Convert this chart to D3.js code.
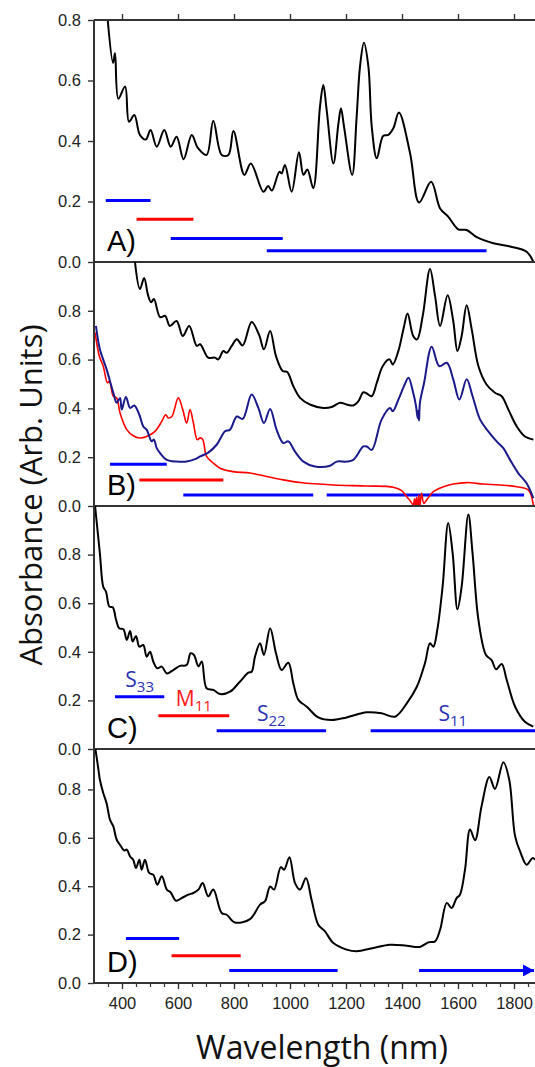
<!DOCTYPE html>
<html>
<head>
<meta charset="utf-8">
<script src="https://cdn.jsdelivr.net/npm/d3@7"></script>
<style>
body { margin: 0; background: #fff; }
svg text { font-family: "Liberation Sans", Arial, sans-serif; }
.title { font-family: "Open Sans", sans-serif; }
</style>
</head>
<body>
<svg id="chart" width="535" height="1067"></svg>
<script>
// ---- data (wavelength nm / absorbance) ----
const aWl  = [349,368,375,387,411,425,444,464,485,502,524,551,574,595,620,649,671,702,726,756,780,798,837,860,905,922,935,962,970,982,1006,1032,1048,1062,1083,1107,1119,1131,1155,1173,1182,1193,1222,1238,1250,1264,1280,1292,1310,1333,1351,1369,1389,1429,1461,1504,1536,1565,1601,1631,1667,1726,1786,1845,1869];
const aAbs = [0.80,0.658,0.69,0.54,0.58,0.464,0.486,0.42,0.405,0.436,0.381,0.436,0.381,0.414,0.34,0.42,0.377,0.354,0.467,0.354,0.354,0.433,0.288,0.326,0.232,0.251,0.236,0.298,0.293,0.321,0.232,0.363,0.288,0.306,0.244,0.513,0.585,0.502,0.326,0.458,0.508,0.447,0.288,0.48,0.646,0.725,0.646,0.447,0.343,0.417,0.42,0.442,0.494,0.359,0.197,0.265,0.177,0.15,0.108,0.106,0.082,0.062,0.051,0.034,0.001];

const bBlackWl  = [446,464,479,493,504,514,536,554,571,595,617,640,667,679,708,732,744,762,774,792,810,831,863,890,907,929,950,974,990,1012,1036,1071,1119,1149,1179,1202,1226,1244,1262,1274,1292,1310,1331,1355,1367,1387,1405,1420,1440,1454,1474,1500,1518,1536,1563,1583,1598,1613,1631,1649,1673,1702,1732,1756,1780,1810,1839,1869];
const bBlackAbs = [1.004,0.889,0.934,0.864,0.835,0.848,0.774,0.779,0.738,0.758,0.697,0.738,0.656,0.663,0.608,0.608,0.601,0.635,0.628,0.656,0.683,0.658,0.754,0.70,0.642,0.717,0.614,0.553,0.549,0.491,0.443,0.416,0.402,0.406,0.423,0.416,0.412,0.429,0.466,0.461,0.45,0.505,0.573,0.601,0.58,0.635,0.724,0.789,0.697,0.683,0.779,0.971,0.861,0.738,0.864,0.758,0.635,0.697,0.823,0.724,0.573,0.498,0.464,0.45,0.395,0.326,0.285,0.272];

const bNavyWl  = [307,321,345,369,381,393,399,414,429,444,462,476,488,506,514,524,536,560,595,631,661,679,708,738,768,786,810,831,863,887,907,929,952,976,994,1018,1048,1089,1143,1167,1202,1226,1262,1274,1292,1327,1357,1367,1387,1407,1423,1440,1450,1456,1458,1461,1464,1479,1506,1533,1560,1583,1605,1631,1652,1679,1708,1738,1762,1786,1815,1845,1869];
const bNavyAbs = [0.738,0.642,0.56,0.464,0.423,0.443,0.395,0.447,0.402,0.412,0.374,0.326,0.313,0.265,0.272,0.237,0.217,0.189,0.182,0.182,0.192,0.203,0.219,0.251,0.306,0.313,0.367,0.357,0.457,0.402,0.34,0.398,0.313,0.258,0.265,0.223,0.182,0.162,0.165,0.182,0.182,0.189,0.244,0.244,0.23,0.354,0.402,0.388,0.436,0.491,0.526,0.464,0.41,0.36,0.39,0.35,0.423,0.505,0.653,0.573,0.587,0.519,0.436,0.519,0.45,0.354,0.306,0.265,0.237,0.189,0.135,0.093,0.032];

const bRedWl  = [304,319,333,348,355,369,381,393,417,440,464,488,518,542,556,565,578,601,617,631,643,655,669,679,688,702,726,750,797,857,917,976,1036,1155,1274,1369,1399,1417,1430,1440,1445,1448,1452,1456,1460,1463,1467,1470,1478,1488,1512,1548,1583,1631,1690,1750,1810,1851,1869];
const bRedAbs = [0.711,0.614,0.573,0.505,0.512,0.45,0.443,0.381,0.313,0.288,0.279,0.285,0.306,0.347,0.374,0.361,0.367,0.443,0.395,0.34,0.395,0.34,0.272,0.279,0.274,0.203,0.176,0.155,0.141,0.135,0.121,0.107,0.096,0.086,0.082,0.077,0.063,0.038,0.02,0.004,0.03,-0.005,0.035,-0.005,0.045,-0.005,0.03,0.052,0.01,0.025,0.059,0.079,0.09,0.096,0.09,0.086,0.079,0.066,0.004];

const cWl  = [302,321,333,343,355,367,379,390,405,417,429,438,450,462,476,488,500,512,526,542,560,583,607,631,645,657,673,685,702,726,750,786,821,851,863,875,893,907,929,950,970,994,1012,1030,1060,1101,1149,1202,1274,1327,1375,1417,1453,1482,1500,1512,1526,1545,1565,1581,1598,1613,1637,1652,1673,1700,1720,1736,1756,1774,1804,1839,1869];
const cAbs = [1.02,0.805,0.668,0.647,0.586,0.583,0.531,0.497,0.493,0.449,0.486,0.442,0.465,0.421,0.428,0.38,0.40,0.359,0.332,0.339,0.311,0.325,0.342,0.346,0.394,0.387,0.34,0.36,0.25,0.243,0.226,0.236,0.277,0.314,0.318,0.38,0.435,0.387,0.497,0.394,0.325,0.355,0.27,0.202,0.174,0.13,0.119,0.13,0.151,0.147,0.133,0.188,0.256,0.353,0.435,0.421,0.49,0.668,0.93,0.805,0.575,0.668,0.965,0.805,0.531,0.387,0.366,0.328,0.35,0.284,0.174,0.112,0.092];

const dWl  = [302,316,321,333,345,357,369,381,393,407,417,429,440,450,462,470,482,497,512,526,542,560,574,593,613,637,655,673,688,708,726,756,774,804,857,893,911,929,943,967,979,998,1018,1036,1057,1077,1101,1125,1155,1202,1238,1298,1357,1417,1464,1494,1518,1536,1560,1577,1595,1607,1625,1643,1661,1684,1712,1732,1762,1783,1804,1824,1845,1866,1875];
const dAbs = [0.99,0.881,0.84,0.785,0.743,0.675,0.647,0.592,0.571,0.548,0.551,0.523,0.509,0.475,0.509,0.468,0.509,0.455,0.447,0.406,0.441,0.386,0.374,0.34,0.351,0.365,0.372,0.386,0.413,0.358,0.386,0.289,0.282,0.25,0.264,0.324,0.338,0.399,0.386,0.479,0.468,0.52,0.413,0.386,0.434,0.344,0.241,0.213,0.165,0.138,0.131,0.145,0.158,0.154,0.149,0.168,0.172,0.22,0.331,0.31,0.351,0.365,0.468,0.634,0.59,0.73,0.851,0.802,0.912,0.84,0.606,0.537,0.489,0.516,0.51];

// transition ranges (start nm, end nm, level) - kind S = semiconducting, M = metallic
const aBarStart = [342, 452, 574, 917],  aBarEnd = [502, 655, 974, 1702],  aBarLevel = [0.203, 0.141, 0.078, 0.037];
const bBarStart = [357, 462, 619, 1131], bBarEnd = [560, 762, 1083, 1836], bBarLevel = [0.171, 0.107, 0.045, 0.045];
const cBarStart = [375, 530, 738, 1288], cBarEnd = [551, 783, 1129, 1875], cBarLevel = [0.215, 0.137, 0.075, 0.075];
const dBarStart = [414, 577, 783, 1461],  dBarEnd = [604, 824, 1170, 1875], dBarLevel = [0.184, 0.113, 0.052, 0.052];
const barKind = ["S", "M", "S", "S"];
const cBarLabel = [["S", "33"], ["M", "11"], ["S", "22"], ["S", "11"]];

const yTicks = [0, 0.2, 0.4, 0.6, 0.8];
const xMajor = d3.range(400, 1801, 200);
const xMinor = d3.range(350, 1851, 50);

// ---- layout ----
var svg = d3.select("#chart");
var left = 94, right = 535;
var x = d3.scaleLinear().domain([300, 1875]).range([left, right]);

var kindColor = {S: "#0000ff", M: "#ff0000"};
var labelColor = {S: "#2b33b3", M: "#ff1a1a"};

var panels = [
  {label: "A)", top: 20,  bottom: 262, ymax: 0.8,
   curves: [[aWl, aAbs, "#000", 2]],
   bars: [aBarStart, aBarEnd, aBarLevel]},
  {label: "B)", top: 262, bottom: 506, ymax: 1.0,
   curves: [[bRedWl, bRedAbs, "#ff0000", 1.6], [bNavyWl, bNavyAbs, "#1a1a8a", 2], [bBlackWl, bBlackAbs, "#000", 2]],
   bars: [bBarStart, bBarEnd, bBarLevel]},
  {label: "C)", top: 506, bottom: 749, ymax: 1.0,
   curves: [[cWl, cAbs, "#000", 2]],
   bars: [cBarStart, cBarEnd, cBarLevel], names: cBarLabel},
  {label: "D)", top: 749, bottom: 983, ymax: 0.967,
   curves: [[dWl, dAbs, "#000", 2]],
   bars: [dBarStart, dBarEnd, dBarLevel], arrow: true}
];

var defs = svg.append("defs");
defs.append("marker")
  .attr("id", "arrow")
  .attr("markerUnits", "userSpaceOnUse")
  .attr("markerWidth", 11)
  .attr("markerHeight", 12)
  .attr("refX", 11)
  .attr("refY", 6)
  .attr("orient", "auto")
  .append("path")
  .attr("d", "M0,0 L11,6 L0,12 Z")
  .attr("fill", "#0000ff");

panels.forEach(function(p, pi) {
  var y = d3.scaleLinear().domain([0, p.ymax]).range([p.bottom, p.top]);
  var g = svg.append("g");

  defs.append("clipPath").attr("id", "clip" + pi)
    .append("rect")
    .attr("x", left).attr("y", p.top)
    .attr("width", right - left).attr("height", p.bottom - p.top);

  // left ticks + labels
  var ax = g.append("g")
    .attr("transform", "translate(" + left + ",0)")
    .call(d3.axisLeft(y).tickValues(yTicks).tickFormat(d3.format(".1f")).tickSize(6).tickPadding(7));
  ax.select(".domain").remove();
  ax.selectAll("line").attr("stroke", "#333").attr("stroke-width", 1.4);
  ax.selectAll("text").attr("font-size", 16.5).attr("fill", "#222");

  // bars
  var bs = p.bars[0], be = p.bars[1], bl = p.bars[2];
  var barG = g.append("g").attr("clip-path", "url(#clip" + pi + ")");
  bs.forEach(function(s, i) {
    var ln = barG.append("line")
      .attr("x1", x(s)).attr("x2", x(be[i]))
      .attr("y1", y(bl[i])).attr("y2", y(bl[i]))
      .attr("stroke", kindColor[barKind[i]])
      .attr("stroke-width", 3);
    if (p.arrow && i == bs.length - 1) {
      ln.attr("x2", x(be[i]) - 1).attr("marker-end", "url(#arrow)");
    }
  });

  // curves
  p.curves.forEach(function(c) {
    var wl = c[0], ab = c[1];
    var line = d3.line()
      .x(function(i) { return x(wl[i]); })
      .y(function(i) { return y(ab[i]); })
      .curve(d3.curveCatmullRom.alpha(0.5));
    g.append("path")
      .attr("clip-path", "url(#clip" + pi + ")")
      .attr("d", line(d3.range(wl.length)))
      .attr("fill", "none")
      .attr("stroke", c[2])
      .attr("stroke-width", c[3])
      .attr("stroke-linejoin", "round");
  });

  // S/M labels in panel C
  if (p.names) {
    p.names.forEach(function(nm, i) {
      var x0 = x(bs[i]), x1 = Math.min(x(be[i]), right);
      var t = g.append("text")
        .attr("x", (x0 + x1) / 2)
        .attr("y", y(bl[i]) - 10)
        .attr("text-anchor", "middle")
        .attr("class", "title")
        .attr("fill", labelColor[barKind[i]])
        .attr("font-size", 21);
      t.append("tspan").text(nm[0]);
      t.append("tspan").text(nm[1]).attr("font-size", 15).attr("dy", 5);
    });
  }

  // panel letter
  g.append("text")
    .attr("x", 107)
    .attr("y", p.bottom - 11)
    .attr("font-size", 29)
    .attr("fill", "#000")
    .text(p.label);

  // frame line below panel
  g.append("line")
    .attr("x1", left).attr("x2", right)
    .attr("y1", p.bottom).attr("y2", p.bottom)
    .attr("stroke", "#333").attr("stroke-width", 2);
});

// top frame with outward ticks
var topAx = svg.append("g")
  .attr("transform", "translate(0,20)")
  .call(d3.axisTop(x).tickValues(xMajor).tickSize(6).tickFormat(""));
topAx.select(".domain").remove();
topAx.selectAll("line").attr("stroke", "#333").attr("stroke-width", 1.4);
svg.append("line")
  .attr("x1", left).attr("x2", right).attr("y1", 20).attr("y2", 20)
  .attr("stroke", "#333").attr("stroke-width", 2);

// left spine
svg.append("line")
  .attr("x1", left).attr("x2", left).attr("y1", 20).attr("y2", 983)
  .attr("stroke", "#333").attr("stroke-width", 2);

// bottom axis
var minorAx = svg.append("g")
  .attr("transform", "translate(0,983)")
  .call(d3.axisBottom(x).tickValues(xMinor.filter(function(v) { return v % 200 != 0; })).tickSize(4).tickFormat(""));
minorAx.select(".domain").remove();
minorAx.selectAll("line").attr("stroke", "#333").attr("stroke-width", 1.2);

var botAx = svg.append("g")
  .attr("transform", "translate(0,983)")
  .call(d3.axisBottom(x).tickValues(xMajor).tickFormat(d3.format("d")).tickSize(6).tickPadding(8));
botAx.select(".domain").remove();
botAx.selectAll("line").attr("stroke", "#333").attr("stroke-width", 1.4);
botAx.selectAll("text").attr("font-size", 16.5).attr("fill", "#222");

// axis titles
svg.append("text")
  .attr("class", "title")
  .attr("transform", "translate(42,495) rotate(-90)")
  .attr("text-anchor", "middle")
  .attr("font-size", 31)
  .attr("fill", "#111")
  .text("Absorbance (Arb. Units)");

svg.append("text")
  .attr("class", "title")
  .attr("x", 322)
  .attr("y", 1059)
  .attr("text-anchor", "middle")
  .attr("font-size", 32)
  .attr("fill", "#111")
  .text("Wavelength (nm)");
</script>
</body>
</html>
